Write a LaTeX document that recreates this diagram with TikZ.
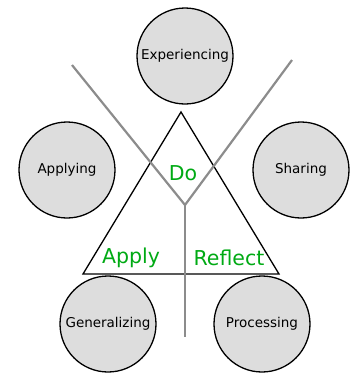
\documentclass[tikz,border=0pt]{standalone}
\usepackage{fontspec}
\setmainfont{DejaVu Sans}
\definecolor{lblgreen}{RGB}{0,170,20}
\definecolor{circgray}{RGB}{221,221,221}
\definecolor{linegray}{RGB}{140,140,140}
\begin{document}
\begin{tikzpicture}[x=1pt,y=-1pt,
           stage_style/.style={circle,draw=black,line width=1.3pt,fill=circgray,minimum size=96pt,inner sep=0pt,font=\fontsize{13.5}{15}\selectfont},
           word_style/.style={text=lblgreen,inner sep=0pt,font=\fontsize{20.5}{24}\selectfont},
           edge_style/.style={draw=linegray,line width=2.2pt},
           tri_style/.style={draw=black,line width=1.3pt}]
            \useasboundingbox (0,0) rectangle (355,373);
            \node[stage_style] (v0) at (185, 56)  {Experiencing};
            \node[stage_style] (v1) at (301, 170) {Sharing};
            \node[stage_style] (v2) at (262, 324) {Processing};
            \node[stage_style] (v3) at (108, 324) {Generalizing};
            \node[stage_style] (v4) at (67, 170)  {Applying};
            \coordinate (t0) at (181, 112);
            \coordinate (t1) at (279, 274);
            \coordinate (t2) at (83, 274);
            \draw[tri_style] (t0) -- (t1) -- (t2) -- cycle;
            \coordinate (c0) at (72, 65);
            \coordinate (c1) at (292, 60);
            \coordinate (c2) at (185, 205);
            \coordinate (c3) at (185, 337);
            \draw[edge_style]  (c0) -- (c2);
            \draw[edge_style]  (c1) -- (c2);
            \draw[edge_style]  (c2) -- (c3);
            \node[word_style] (w0) at (183, 173) {Do};
            \node[word_style] (w1) at (131, 258) {Apply};
            \node[word_style] (w2) at (229, 258) {Reflect};
        \end{tikzpicture}
\end{document}
